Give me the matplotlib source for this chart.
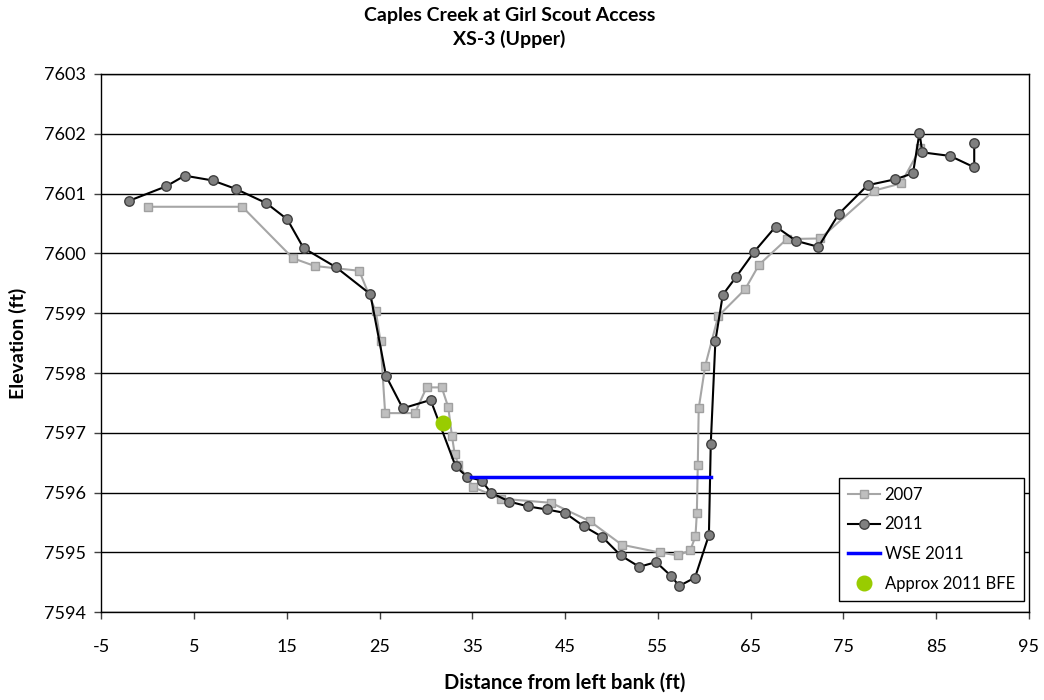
import matplotlib
matplotlib.use("Agg")
import matplotlib.pyplot as plt

plt.rcParams['font.family'] = ['Lato', 'DejaVu Sans']

# survey 2007 (squares)
x2007 = [0.0, 10.2, 15.66, 18.0, 22.8, 24.6, 25.1, 25.6, 28.8, 30.07, 31.7, 32.4, 32.8,
         33.1, 33.5, 35.1, 38.1, 43.5, 47.7, 51.1, 55.2, 57.2, 58.5, 59.05, 59.2, 59.3,
         59.4, 60.1, 61.5, 64.4, 65.9, 68.9, 72.5, 78.3, 81.2, 83.3]
y2007 = [7600.78, 7600.78, 7599.92, 7599.79, 7599.71, 7599.03, 7598.53, 7597.33, 7597.33,
         7597.76, 7597.76, 7597.43, 7596.95, 7596.64, 7596.47, 7596.09, 7595.90, 7595.83,
         7595.52, 7595.13, 7595.00, 7594.95, 7595.04, 7595.27, 7595.66, 7596.46, 7597.41,
         7598.12, 7598.95, 7599.40, 7599.81, 7600.24, 7600.25, 7601.05, 7601.17, 7601.76]

# survey 2011 (circles)
x2011 = [-2.0, 1.97, 4.0, 7.0, 9.48, 12.8, 15.05, 16.8, 20.3, 24.0, 25.7, 27.5, 30.5,
         33.2, 34.4, 36.0, 37.0, 39.0, 41.0, 43.0, 45.0, 47.0, 49.0, 51.0, 53.0, 54.8,
         56.4, 57.3, 59.0, 60.5, 60.7, 61.2, 62.0, 63.4, 65.4, 67.7, 69.9, 72.3, 74.5,
         77.6, 80.6, 82.5, 83.2, 83.5, 86.5, 89.1, 89.1]
y2011 = [7600.88, 7601.12, 7601.30, 7601.22, 7601.08, 7600.84, 7600.57, 7600.09, 7599.77,
         7599.32, 7597.95, 7597.41, 7597.55, 7596.44, 7596.27, 7596.20, 7596.00, 7595.85,
         7595.77, 7595.72, 7595.66, 7595.44, 7595.26, 7594.95, 7594.76, 7594.84, 7594.61,
         7594.44, 7594.58, 7595.29, 7596.82, 7598.54, 7599.31, 7599.60, 7600.03, 7600.45,
         7600.21, 7600.11, 7600.66, 7601.14, 7601.24, 7601.34, 7602.02, 7601.69, 7601.63,
         7601.44, 7601.85]

wse_x = [34.9, 60.7]
wse_y = [7596.27, 7596.27]

bfe_x = [31.8]
bfe_y = [7597.17]

xticks = list(range(-5, 96, 10))
yticks = list(range(7594, 7604))

fig = plt.figure(figsize=(10.44, 7), dpi=100)
ax = fig.add_axes([0.0970, 0.1253, 0.8886, 0.7690])

for y in yticks:
    ax.axhline(y, color='black', lw=1.0, zorder=1)

ax.plot(x2007, y2007, color='#a6a6a6', lw=1.5, marker='s', ms=6.2,
        mfc='#bfbfbf', mec='#a0a0a0', mew=1.0, label='2007', zorder=3)
ax.plot(x2011, y2011, color='black', lw=1.5, marker='o', ms=6.8,
        mfc='#808080', mec='#404040', mew=1.0, label='2011', zorder=4)
ax.plot(wse_x, wse_y, color='#0000ff', lw=2.5, label='WSE 2011', zorder=5)
ax.plot(bfe_x, bfe_y, ls='none', marker='o', ms=10.5, color='#99cc00',
        label='Approx 2011 BFE', zorder=6)

ax.set_xlim(-5, 95)
ax.set_ylim(7594, 7603)
ax.set_xticks(xticks)
ax.set_yticks(yticks)
ax.set_xticklabels([str(v) for v in xticks])
ax.set_yticklabels([str(v) for v in yticks])
ax.tick_params(labelsize=13, direction='out', length=5, width=1, color='#404040', pad=6)
ax.tick_params(axis='x', pad=14)
for s in ax.spines.values():
    s.set_color('black')
    s.set_linewidth(1.0)

ax.set_xlabel('Distance from left bank (ft)', fontsize=14.5, fontweight='bold', labelpad=13)
ax.set_ylabel('Elevation (ft)', fontsize=14, fontweight='bold', labelpad=12)

fig.text(0.488, 0.978, 'Caples Creek at Girl Scout Access', ha='center', va='center',
         fontsize=14, fontweight='bold')
fig.text(0.488, 0.945, 'XS-3 (Upper)', ha='center', va='center',
         fontsize=14, fontweight='bold')

leg = ax.legend(loc='lower right', bbox_to_anchor=(0.9946, 0.021), borderaxespad=0,
                fontsize=12, frameon=True, fancybox=False, edgecolor='black',
                framealpha=1, borderpad=0.55, labelspacing=0.82, handlelength=1.9,
                handletextpad=0.3)
leg.get_frame().set_linewidth(1.0)

fig.savefig('out.png', dpi=100)
